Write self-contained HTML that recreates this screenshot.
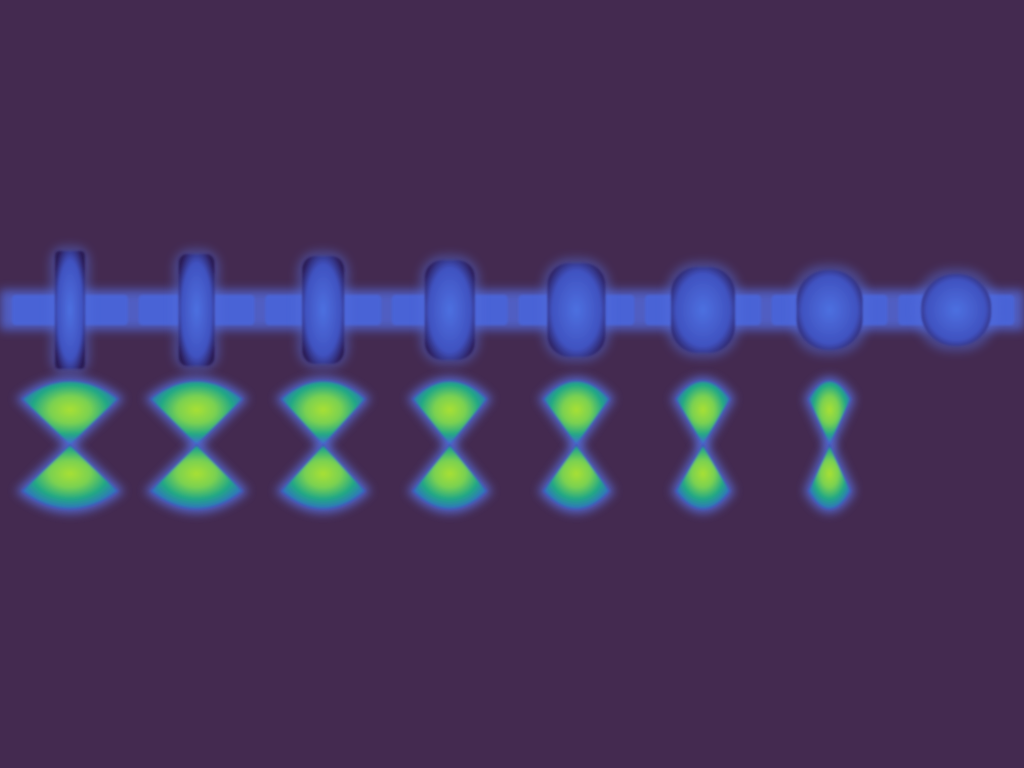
<!DOCTYPE html>
<html><head><meta charset="utf-8"><style>
html,body{margin:0;padding:0;background:#442a50;}
svg{display:block}
</style></head><body>
<svg id="chart" width="1024" height="768" viewBox="0 0 1024 768" xmlns="http://www.w3.org/2000/svg">
<defs>
<filter id="blur" x="-30%" y="-30%" width="160%" height="160%"><feGaussianBlur stdDeviation="5"/></filter>
<filter id="soft" x="-30%" y="-30%" width="160%" height="160%"><feGaussianBlur stdDeviation="1"/></filter>
<radialGradient id="wedgeTop" cx="0.5" cy="0.45" r="0.6">
<stop offset="0" stop-color="#a8e034"/><stop offset="0.35" stop-color="#7ad151"/><stop offset="0.65" stop-color="#22a884"/><stop offset="0.88" stop-color="#2f7ab8"/><stop offset="1" stop-color="#4a62d0"/></radialGradient>
<radialGradient id="vbar" cx="0.5" cy="0.5" r="0.6">
<stop offset="0" stop-color="#4d70e0"/><stop offset="0.7" stop-color="#4052c0"/><stop offset="1" stop-color="#2b1b55"/></radialGradient>
</defs>
<rect width="1024" height="768" fill="#442a50"/>
<g id="rod"></g>
<g id="cones"></g>
</svg>
<script>
const positions = [0,1,2,3,4,5,6,7];
const vWidths = [30,36,42,50,58,64,66,70];
const vHeights = [118,112,108,100,94,86,80,72];
const coneHalfWidths = [48,46,42,37,33,27,21];
const coneHeights = [72,72,72,72,72,72,72];

const NS='http://www.w3.org/2000/svg';
const xScale = i => 70 + i*126.6;
const yMid = 310, coneMid = 445;
const rod = document.getElementById('rod');
const cones = document.getElementById('cones');
function mk(tag, attrs, parent){const e=document.createElementNS(NS,tag);for(const k in attrs)e.setAttribute(k,attrs[k]);parent.appendChild(e);return e;}

const halo = mk('rect',{x:0,y:yMid-20,width:1024,height:40,fill:'#5570e8',opacity:0.75,filter:'url(#blur)'},rod);


positions.forEach(i=>{
  const x=xScale(i);
  const seg = mk('rect',{x:x-58,y:yMid-15,width:116,height:30,rx:4,fill:'#4a64d6',filter:'url(#soft)'},rod);
  
  
});
positions.forEach(i=>{
  const x=xScale(i), w=vWidths[i], h=vHeights[i];
  const g = mk('rect',{x:x-w/2-5,y:yMid-h/2-5,width:w+10,height:h+10,rx:Math.min(w,h)/2,fill:'#5570e0',opacity:0.45,filter:'url(#blur)'},rod);
  
  
  const r = mk('rect',{x:x-w/2,y:yMid-h/2,width:w,height:h,rx:Math.min(w*0.48, 4+i*4.5),fill:'url(#vbar)',filter:'url(#soft)'},rod);
  
  
});
coneHalfWidths.forEach((hw,i)=>{
  const x=xScale(i), h=coneHeights[i];
  [-1,1].forEach(s=>{
    const tipY=coneMid, edgeY=coneMid+s*(h-26), arcY=coneMid+s*h;
    const d=`M${x},${tipY} L${x-hw},${edgeY} Q${x},${arcY+s*10} ${x+hw},${edgeY} Z`;
    const gl = mk('path',{d:d,fill:'#5a74e8',opacity:0.8,stroke:'#5a74e8','stroke-width':8,filter:'url(#blur)'},cones);
    
    
    const p = mk('path',{d:d,fill:'url(#wedgeTop)',stroke:'#3d55b8','stroke-width':1.5,filter:'url(#soft)'},cones);
    
    
  });
});
</script>
</body></html>
